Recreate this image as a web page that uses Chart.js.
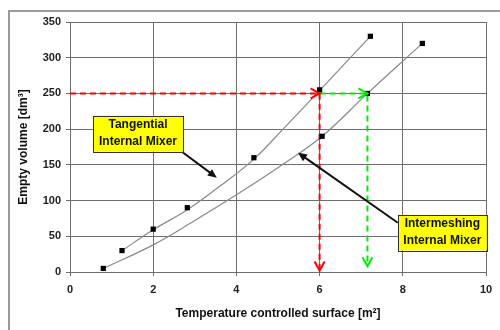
<!DOCTYPE html>
<html>
<head>
<meta charset="utf-8">
<script src="https://cdn.jsdelivr.net/npm/chart.js@4/dist/chart.umd.min.js"></script>
<style>
  html, body { margin: 0; padding: 0; background: #fff; overflow: hidden; }
</style>
</head>
<body>
<canvas id="chart" width="500" height="330"></canvas>
<script>
// measured points (squares)
const tangentialX = [1.25, 2, 2.82, 4.42, 6, 7.22];
const tangentialY = [30, 60, 90, 160, 255, 330];
const intermeshingX = [0.8, 6.06, 7.15, 8.47];
const intermeshingY = [5, 190, 250, 320];

// trend curves
const tangentialCurveX = [1.25, 2, 2.84, 3.6, 4.42, 5.2, 6, 7.22];
const tangentialCurveY = [30, 59, 88, 120, 158, 205, 254, 330];
const intermeshingCurveX = [0.8, 2, 3, 4, 5.05, 6.06, 7.15, 8.47];
const intermeshingCurveY = [5, 38, 72, 108, 148, 190, 250, 320];

// dashed read-off lines
const redGuideX = [0, 6, 6];
const redGuideY = [250, 250, 2];
const greenGuideX = [6, 7.15, 7.15];
const greenGuideY = [250, 250, 8];

// axis ticks
const xTicks = [0, 2, 4, 6, 8, 10];
const yTicks = [0, 50, 100, 150, 200, 250, 300, 350];

const FONT = "'Liberation Sans', Arial, sans-serif";

// Callouts (in data units)
const callouts = [
  { lines: ["Tangential", "Internal Mixer"], box: [0.55, 219, 2.72, 168.5], from: [2.69, 168.4], to: [3.53, 132] },
  { lines: ["Intermeshing", "Internal Mixer"], box: [7.88, 80, 10.02, 30.2], from: [7.88, 69], to: [5.48, 167] },
];

function pts(xs, ys) {
  return xs.map((x, i) => ({ x, y: ys[i] }));
}

function chevron(ctx, tx, ty, dx, dy, color) {
  const len = 9, w = 5;
  const px = -dy, py = dx;
  ctx.save();
  ctx.setLineDash([]);
  ctx.strokeStyle = color;
  ctx.lineWidth = 2;
  ctx.beginPath();
  ctx.moveTo(tx - dx * len + px * w, ty - dy * len + py * w);
  ctx.lineTo(tx, ty);
  ctx.lineTo(tx - dx * len - px * w, ty - dy * len - py * w);
  ctx.stroke();
  ctx.restore();
}

const overlay = {
  id: "overlay",
  beforeDraw(chart) {
    const { ctx } = chart;
    ctx.save();
    ctx.fillStyle = "#fff";
    ctx.fillRect(0, 0, chart.width, chart.height);
    ctx.strokeStyle = "#9a9a9a";
    ctx.lineWidth = 2;
    ctx.strokeRect(9, 11, 600, 400);
    ctx.restore();
  },
  afterDatasetsDraw(chart) {
    const { ctx, scales: { x, y } } = chart;

    // Pfeilspitzen an den gestrichelten Linien
    [[redGuideX, redGuideY, "#ff0000"], [greenGuideX, greenGuideY, "#00ee00"]].forEach(([gx, gy, col]) => {
      for (let i = 1; i < gx.length; i++) {
        const x0 = x.getPixelForValue(gx[i - 1]), y0 = y.getPixelForValue(gy[i - 1]);
        const x1 = x.getPixelForValue(gx[i]), y1 = y.getPixelForValue(gy[i]);
        const l = Math.hypot(x1 - x0, y1 - y0);
        chevron(ctx, x1, y1, (x1 - x0) / l, (y1 - y0) / l, col);
      }
    });

    // Beschriftungen mit Pfeil
    callouts.forEach((c) => {
      const fx = x.getPixelForValue(c.from[0]), fy = y.getPixelForValue(c.from[1]);
      const tx = x.getPixelForValue(c.to[0]), ty = y.getPixelForValue(c.to[1]);
      const l = Math.hypot(tx - fx, ty - fy);
      const dx = (tx - fx) / l, dy = (ty - fy) / l;
      ctx.save();
      ctx.strokeStyle = "#111";
      ctx.fillStyle = "#111";
      ctx.lineWidth = 2;
      ctx.beginPath();
      ctx.moveTo(fx, fy);
      ctx.lineTo(tx - dx * 6, ty - dy * 6);
      ctx.stroke();
      ctx.beginPath();
      ctx.moveTo(tx, ty);
      ctx.lineTo(tx - dx * 9 - dy * 4, ty - dy * 9 + dx * 4);
      ctx.lineTo(tx - dx * 9 + dy * 4, ty - dy * 9 - dx * 4);
      ctx.closePath();
      ctx.fill();

      const bx0 = x.getPixelForValue(c.box[0]), by0 = y.getPixelForValue(c.box[1]);
      const bx1 = x.getPixelForValue(c.box[2]), by1 = y.getPixelForValue(c.box[3]);
      ctx.fillStyle = "#ffff00";
      ctx.fillRect(bx0, by0, bx1 - bx0, by1 - by0);
      ctx.strokeStyle = "#333";
      ctx.lineWidth = 1;
      ctx.strokeRect(Math.round(bx0) + 0.5, Math.round(by0) + 0.5, Math.round(bx1 - bx0), Math.round(by1 - by0));
      ctx.fillStyle = "#111";
      ctx.font = "bold 12px " + FONT;
      ctx.textAlign = "center";
      ctx.textBaseline = "middle";
      const cx = (bx0 + bx1) / 2, cy = (by0 + by1) / 2;
      ctx.fillText(c.lines[0], cx, cy - 8.5);
      ctx.fillText(c.lines[1], cx, cy + 8.5);
      ctx.restore();
    });
  },
};

new Chart(document.getElementById("chart"), {
  type: "scatter",
  data: {
    datasets: [
      { data: pts(tangentialX, tangentialY), showLine: false, pointStyle: "rect", pointRadius: 3.7, backgroundColor: "#000", borderWidth: 0, order: 0 },
      { data: pts(intermeshingX, intermeshingY), showLine: false, pointStyle: "rect", pointRadius: 3.7, backgroundColor: "#000", borderWidth: 0, order: 0 },
      { data: pts(tangentialCurveX, tangentialCurveY), showLine: true, pointRadius: 0, borderColor: "#8a8a8a", borderWidth: 1.2, tension: 0.4, order: 2 },
      { data: pts(intermeshingCurveX, intermeshingCurveY), showLine: true, pointRadius: 0, borderColor: "#8a8a8a", borderWidth: 1.2, tension: 0.4, order: 2 },
      { data: pts(redGuideX, redGuideY), showLine: true, pointRadius: 0, borderColor: "#ff0000", borderWidth: 2, borderDash: [6, 4], order: 1 },
      { data: pts(greenGuideX, greenGuideY), showLine: true, pointRadius: 0, borderColor: "#00ee00", borderWidth: 2, borderDash: [6, 4], order: 1 },
    ],
  },
  options: {
    responsive: false,
    animation: false,
    layout: { padding: { top: 22, right: 14, left: 0, bottom: 0 } },
    plugins: { legend: { display: false }, tooltip: { enabled: false } },
    scales: {
      x: {
        type: "linear",
        min: 0,
        max: 10,
        afterBuildTicks: (s) => { s.ticks = xTicks.map((v) => ({ value: v })); },
        afterFit: (s) => { s.height = 58; },
        grid: { color: "#6e6e6e", tickLength: 4 },
        border: { color: "#6e6e6e" },
        ticks: { padding: 7, color: "#222", font: { family: FONT, size: 11, weight: "bold" } },
        title: {
          display: true,
          text: "Temperature controlled surface [m²]",
          color: "#111",
          padding: { top: 0, bottom: 9 },
          font: { family: FONT, size: 12, weight: "bold" },
        },
      },
      y: {
        type: "linear",
        min: 0,
        max: 350,
        afterBuildTicks: (s) => { s.ticks = yTicks.map((v) => ({ value: v })); },
        afterFit: (s) => { s.width = 70; },
        grid: { color: "#6e6e6e", tickLength: 4 },
        border: { color: "#6e6e6e" },
        ticks: { padding: 5, color: "#222", font: { family: FONT, size: 11, weight: "bold" } },
        title: {
          display: true,
          text: "Empty volume [dm³]",
          color: "#111",
          padding: { top: 16, bottom: 0 },
          font: { family: FONT, size: 12, weight: "bold" },
        },
      },
    },
  },
  plugins: [overlay],
});
</script>
</body>
</html>
